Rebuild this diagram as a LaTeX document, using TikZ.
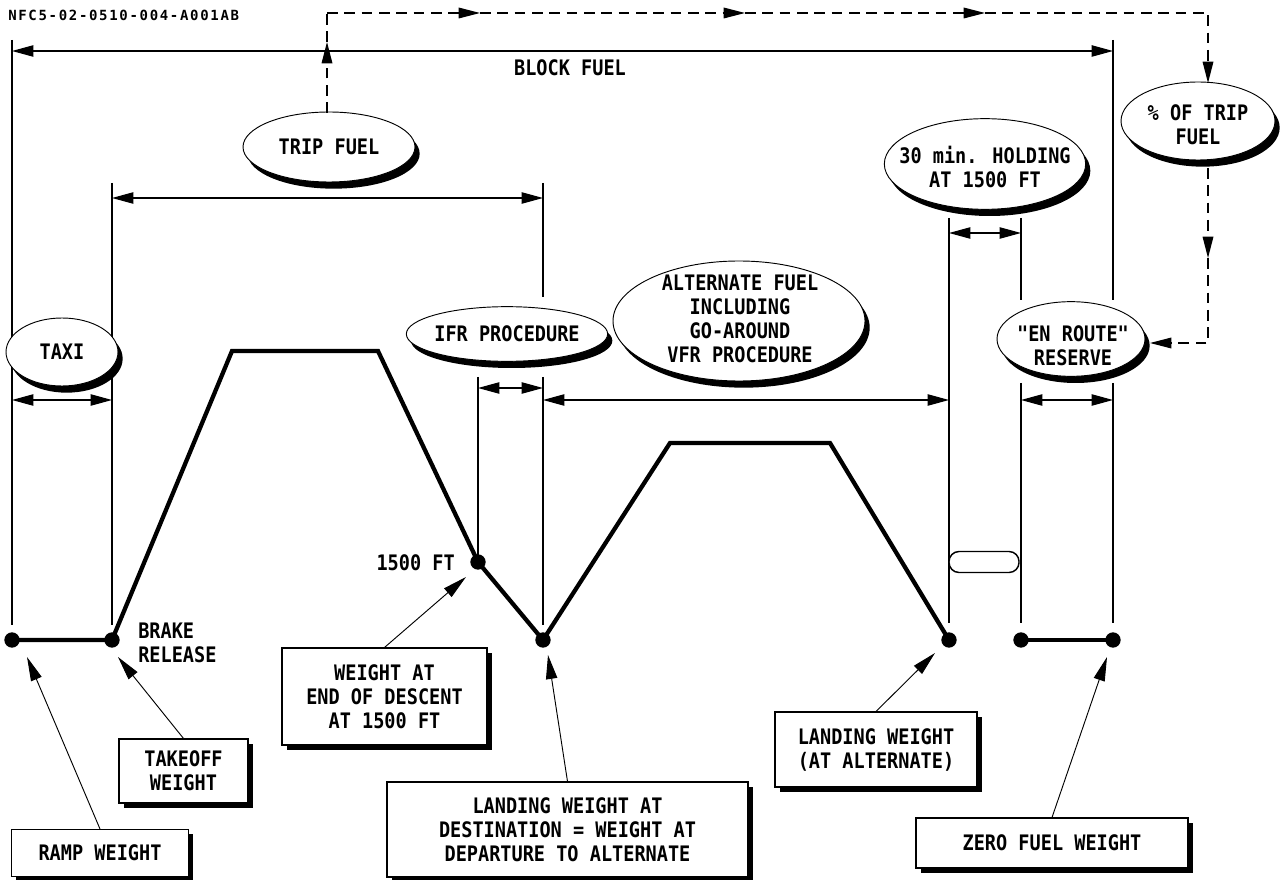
\documentclass[tikz,border=0pt]{standalone}
\usepackage{fontspec}
\setmainfont{DejaVu Sans Mono}[FakeStretch=0.87]
\newfontfamily\qfont{DejaVu Sans Mono}[FakeStretch=0.87]
\newfontfamily\hdrfont{DejaVu Sans Mono}[LetterSpace=12]
\usetikzlibrary{arrows.meta,shapes.geometric,shadows}
\begin{document}
\begin{tikzpicture}[x=0.75pt,y=-0.75pt,
 every node/.style={font=\fontsize{16}{18}\selectfont\bfseries, inner sep=0pt},
 vline/.style={line width=0.9pt},
 prof/.style={line width=3.2pt, line join=miter},
 dot/.style={circle, fill=black, minimum size=11.5pt, inner sep=0pt},
 dimarrow/.style={line width=0.9pt, {Triangle[length=16pt,width=8.5pt]}-{Triangle[length=16pt,width=8.5pt]}},
 ptr/.style={line width=0.7pt, -{Triangle[length=18pt,width=8.5pt]}},
 dsh/.style={line width=0.9pt, dash pattern=on 8pt off 5pt},
 dsharr/.style={dsh, -{Triangle[length=16pt,width=8pt]}},
 oval/.style={ellipse, draw, line width=0.7pt, fill=white,
   drop shadow={shadow xshift=3.5pt, shadow yshift=-5pt, opacity=1, fill=black}},
 lbl/.style={align=center},
 boxx/.style={rectangle, draw, line width=0.8pt, fill=white, align=center,
   drop shadow={shadow xshift=3.5pt, shadow yshift=-3.5pt, opacity=1, fill=black}},
]
\useasboundingbox (0,0) rectangle (1281,880);
\fill[white] (0,0) rectangle (1281,880);

% header
\node[anchor=west, font=\fontsize{10.5}{12}\selectfont\hdrfont\bfseries] (hdr) at (8,15) {NFC5-02-0510-004-A001AB};

% vertical reference lines
\draw[vline] (12,40) -- (12,625);
\draw[vline] (112,183) -- (112,625);
\draw[vline] (478,377) -- (478,560);
\draw[vline] (543,183) -- (543,297);
\draw[vline] (543,377) -- (543,625);
\draw[vline] (949,218) -- (949,623);
\draw[vline] (1021,218) -- (1021,300);
\draw[vline] (1021,383) -- (1021,623);
\draw[vline] (1113,40) -- (1113,300);
\draw[vline] (1113,383) -- (1113,623);

% block fuel
\coordinate (bfL) at (12,51);
\coordinate (bfR) at (1113,51);
\draw[dimarrow] (bfL) -- (bfR);
\node (bf) at (570,68) {BLOCK FUEL};

% dimension arrows
\coordinate (trL) at (112,198); \coordinate (trR) at (543,198);
\draw[dimarrow] (trL) -- (trR);
\coordinate (txL) at (12,400); \coordinate (txR) at (112,400);
\draw[dimarrow] (txL) -- (txR);
\coordinate (ifL) at (478,388); \coordinate (ifR) at (543,388);
\draw[dimarrow] (ifL) -- (ifR);
\coordinate (alL) at (543,400); \coordinate (alR) at (949,400);
\draw[dimarrow] (alL) -- (alR);
\coordinate (hoL) at (949,233); \coordinate (hoR) at (1021,233);
\draw[dimarrow] (hoL) -- (hoR);
\coordinate (erL) at (1021,400); \coordinate (erR) at (1113,400);
\draw[dimarrow] (erL) -- (erR);

% ellipses (shape) and their texts
\node[oval, minimum width=129pt, minimum height=52.5pt] (trip) at (329,147) {};
\node[lbl] (tripT) at (trip) {TRIP FUEL};
\node[oval, minimum width=84pt, minimum height=51pt] (taxi) at (62,352) {};
\node[lbl] (taxiT) at (taxi) {TAXI};
\node[oval, minimum width=151pt, minimum height=41pt] (ifr) at (507,334) {};
\node[lbl] (ifrT) at (ifr) {IFR PROCEDURE};
\node[oval, minimum width=189pt, minimum height=90pt] (alt) at (739,321) {};
\node[lbl] (altT) at (740,319) {ALTERNATE FUEL\\INCLUDING\\GO-AROUND\\VFR PROCEDURE};
\node[oval, minimum width=151pt, minimum height=68pt] (hold) at (985,164) {};
\node[lbl] (holdT) at (985,167) {30 min. HOLDING\\AT 1500 FT};
\node[oval, minimum width=115.5pt, minimum height=58.5pt] (pct) at (1198,121) {};
\node[lbl] (pctT) at (1198,125) {\% OF TRIP\\FUEL};
\node[oval, minimum width=111pt, minimum height=56pt] (enr) at (1071,339) {};
\node[lbl, font=\fontsize{16}{18}\selectfont\qfont\bfseries] (enrT) at (1073,346) {"EN ROUTE"\\RESERVE};

% dashed route
\coordinate (tripTop) at (327,113);
\coordinate (du) at (327,42);
\coordinate (c1) at (327,13);
\coordinate (a1) at (480,13);
\coordinate (a2) at (745,13);
\coordinate (a3) at (985,13);
\coordinate (c2) at (1208,13);
\coordinate (ad1) at (1208,83);
\coordinate (pctBot) at (1208,168);
\coordinate (ad2) at (1208,258);
\coordinate (c3) at (1208,343);
\coordinate (enrR) at (1150,343);
\draw[dsharr] (tripTop) -- (du);
\draw[dsh] (du) -- (c1);
\draw[dsharr] (c1) -- (a1);
\draw[dsharr] (a1) -- (a2);
\draw[dsharr] (a2) -- (a3);
\draw[dsharr] (a3) -- (c2) -- (ad1);
\draw[dsharr] (pctBot) -- (ad2);
\draw[dsharr] (ad2) -- (c3) -- (enrR);

% flight profile
\coordinate (p0) at (12,640);
\coordinate (p1) at (112,640);
\coordinate (p2) at (232,351);
\coordinate (p3) at (378,351);
\coordinate (p4) at (478,562);
\coordinate (p5) at (543,640);
\coordinate (p6) at (670,443);
\coordinate (p7) at (830,443);
\coordinate (p8) at (949,640);
\coordinate (p9) at (1021,640);
\coordinate (p10) at (1113,640);
\draw[prof] (p0) -- (p1) -- (p2) -- (p3) -- (p4) -- (p5) -- (p6) -- (p7) -- (p8);
\draw[prof] (p9) -- (p10);
\foreach \p in {p0,p1,p4,p5,p8,p9,p10} \node[dot] (dot\p) at (\p) {};

% holding pattern
\node[draw, line width=1.1pt, rounded corners=7.5pt, fill=white, minimum width=52.5pt, minimum height=15.75pt] (stad) at (984,562) {};

% labels
\node[anchor=west, align=left] (brake) at (138,643) {BRAKE\\RELEASE};
\node[anchor=east] (ft) at (455,563) {1500 FT};

% boxes
\node[boxx, minimum width=132.75pt, minimum height=35.25pt] (ramp) at (100,853) {RAMP WEIGHT};
\node[boxx, minimum width=96.75pt, minimum height=48pt] (tow) at (183.5,771) {TAKEOFF\\WEIGHT};
\node[boxx, minimum width=153.75pt, minimum height=72.75pt] (eod) at (384.5,696.5) {WEIGHT AT\\END OF DESCENT\\AT 1500 FT};
\node[boxx, minimum width=270.75pt, minimum height=71.25pt] (dest) at (567.5,829.5) {LANDING WEIGHT AT\\DESTINATION = WEIGHT AT\\DEPARTURE TO ALTERNATE};
\node[boxx, minimum width=151.5pt, minimum height=56.25pt] (lwa) at (876,749.5) {LANDING WEIGHT\\(AT ALTERNATE)};
\node[boxx, minimum width=204pt, minimum height=37.5pt] (zfw) at (1052,843) {ZERO FUEL WEIGHT};

% pointer tips
\coordinate (tRamp) at (27,657);
\coordinate (tTow) at (118,657);
\coordinate (tEod) at (466,577);
\coordinate (tDest) at (548,655);
\coordinate (tLwa) at (935,653);
\coordinate (tZfw) at (1107,657);
\draw[ptr] (ramp.north) -- (tRamp);
\draw[ptr] (tow.north) -- (tTow);
\draw[ptr] (eod.north) -- (tEod);
\draw[ptr] (dest.north) -- (tDest);
\draw[ptr] (lwa.north) -- (tLwa);
\draw[ptr] (zfw.north) -- (tZfw);
\end{tikzpicture}
\end{document}
